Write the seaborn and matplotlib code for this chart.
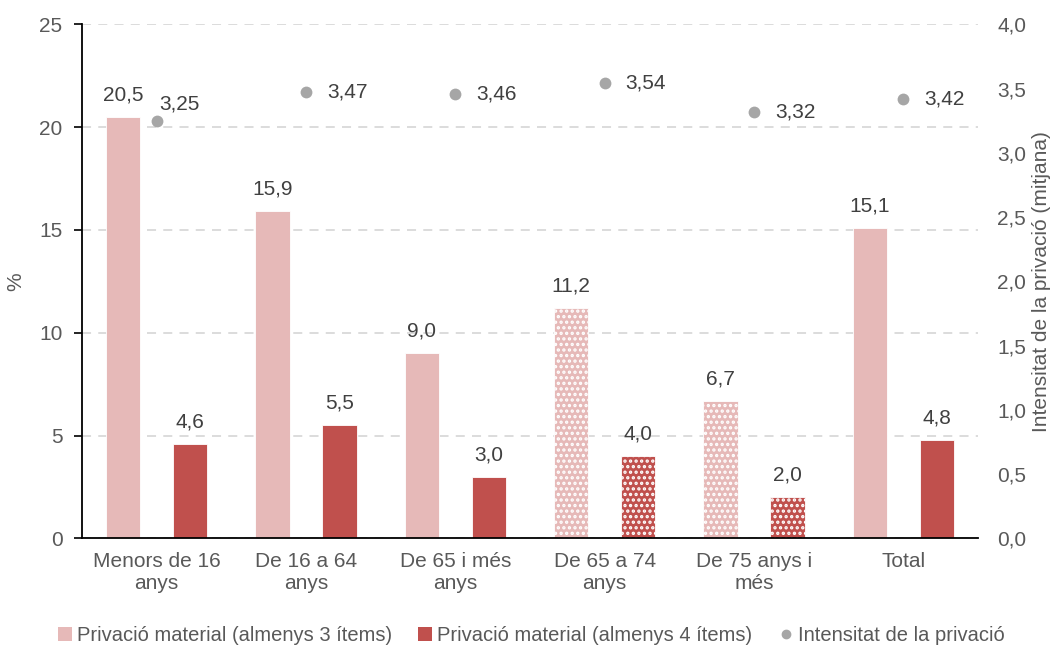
import numpy as np
import pandas as pd
import matplotlib
matplotlib.use("Agg")
import matplotlib.pyplot as plt
import seaborn as sns
from matplotlib.patches import Patch
from matplotlib.lines import Line2D
from matplotlib.ticker import FuncFormatter

categories = ["Menors de 16\nanys", "De 16 a 64\nanys", "De 65 i més\nanys",
              "De 65 a 74\nanys", "De 75 anys i\nmés", "Total"]
priv3 = [20.5, 15.9, 9.0, 11.2, 6.7, 15.1]
priv4 = [4.6, 5.5, 3.0, 4.0, 2.0, 4.8]
intensitat = [3.25, 3.47, 3.46, 3.54, 3.32, 3.42]
hatched = [3, 4]

serie3 = "Privació material (almenys 3 ítems)"
serie4 = "Privació material (almenys 4 ítems)"
serie_int = "Intensitat de la privació"

pink = "#E6B9B8"
red = "#C0504D"
grey_dot = "#A6A6A6"
txt = "#404040"
tick_col = "#595959"

sns.set_theme(style="white")
plt.rcParams["font.family"] = ["Liberation Sans", "DejaVu Sans"]
plt.rcParams["hatch.linewidth"] = 1.6

df = pd.DataFrame({
    "cat": categories * 2,
    "val": priv3 + priv4,
    "serie": [serie3] * 6 + [serie4] * 6,
})

fig = plt.figure(figsize=(10.62, 6.5), dpi=100)
ax = fig.add_axes([0.0772, 0.1718, 0.8437, 0.7908])

sns.barplot(data=df, x="cat", y="val", hue="serie", palette=[pink, red],
            width=0.9, gap=0.49, ax=ax, legend=False, saturation=1)

for cont, vals in zip(ax.containers, [priv3, priv4]):
    for i, bar in enumerate(cont):
        bar.set_edgecolor("white")
        bar.set_linewidth(0.6)
        if i in hatched:
            bar.set_hatch("...")
        ax.annotate(f"{vals[i]:.1f}".replace(".", ","),
                    (bar.get_x() + bar.get_width() / 2, bar.get_height()),
                    xytext=(0, 9), textcoords="offset points",
                    ha="center", va="bottom", fontsize=15, color=txt)

ax.set_xlim(-0.5, 5.5)
ax.set_ylim(0, 25)
ax.set_yticks(range(0, 26, 5))
ax.set_xticks(np.arange(-0.5, 6, 1))
ax.set_xticklabels([])
ax.set_xticks(range(6), labels=categories, minor=True)
ax.tick_params(axis="x", which="major", length=7, width=1.2, color="black", direction="out")
ax.tick_params(axis="x", which="minor", length=0, pad=10, labelsize=15, labelcolor=tick_col)
ax.tick_params(axis="y", length=6, width=1.2, color="black", direction="out",
               labelsize=15, labelcolor=tick_col, pad=8, left=True)
ax.set_xlabel("")
ax.set_ylabel("%", fontsize=15, color=tick_col, labelpad=10)
ax.yaxis.grid(True, color="#D9D9D9", linestyle=(0, (5, 4)), linewidth=1.3)
ax.set_axisbelow(True)
for s in ["top", "right"]:
    ax.spines[s].set_visible(False)
for s in ["left", "bottom"]:
    ax.spines[s].set_color("black")
    ax.spines[s].set_linewidth(1.3)

ax2 = ax.twinx()
sns.stripplot(x=list(range(6)), y=intensitat, native_scale=True, jitter=False,
              color=grey_dot, size=8.5, linewidth=0, ax=ax2, zorder=5)
ax2.set_xlim(-0.5, 5.5)
ax2.set_ylim(0, 4)
ax2.set_yticks(np.arange(0, 4.01, 0.5))
ax2.yaxis.set_major_formatter(FuncFormatter(lambda v, p: f"{v:.1f}".replace(".", ",")))
ax2.tick_params(axis="y", length=0, labelsize=15, labelcolor=tick_col, pad=14)
ax2.set_ylabel("Intensitat de la privació (mitjana)", fontsize=15, color=tick_col, labelpad=4)
for s in ["top", "right", "left", "bottom"]:
    ax2.spines[s].set_visible(False)

for i, v in enumerate(intensitat):
    lab = f"{v:.2f}".replace(".", ",")
    if i == 0:
        ax2.annotate(lab, (i, v), xytext=(2, 12), textcoords="offset points",
                     ha="left", va="center", fontsize=15, color=txt)
    else:
        ax2.annotate(lab, (i, v), xytext=(15, 0), textcoords="offset points",
                     ha="left", va="center", fontsize=15, color=txt)

handles = [
    Patch(facecolor=pink, edgecolor="none"),
    Patch(facecolor=red, edgecolor="none"),
    Line2D([], [], marker="o", linestyle="none", color=grey_dot, markersize=6),
]
fig.legend(handles, [serie3, serie4, serie_int], loc="center", bbox_to_anchor=(0.5, 0.022),
           ncol=3, frameon=False, fontsize=14.5, handlelength=0.7, handleheight=0.7,
           handletextpad=0.25, columnspacing=1.3, labelcolor=tick_col)

fig.savefig("out.png", dpi=100)
